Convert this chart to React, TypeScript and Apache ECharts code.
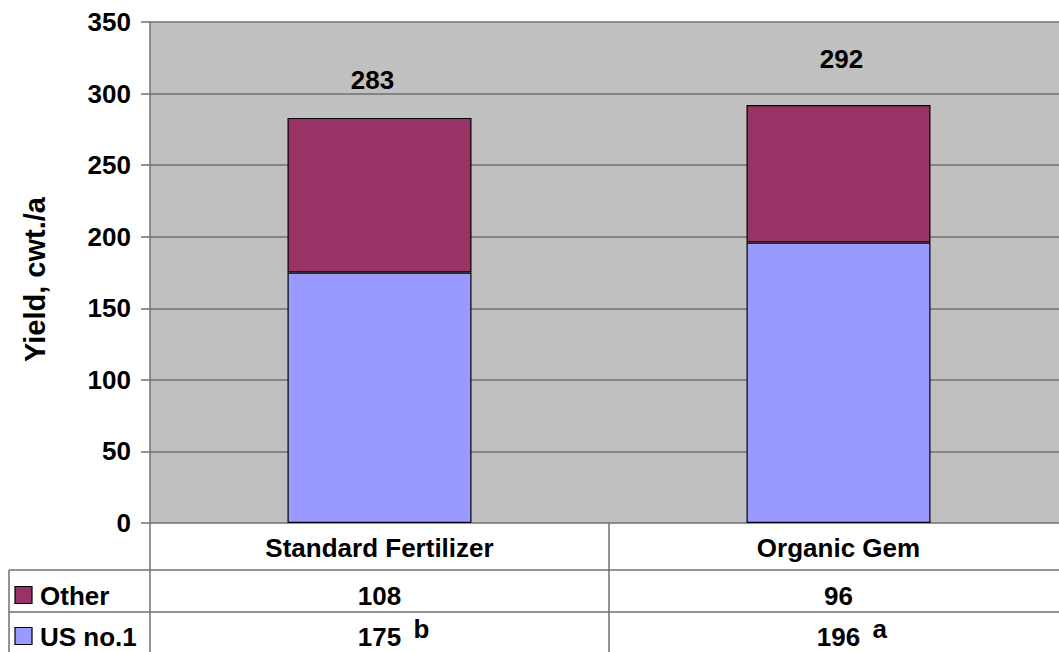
import React, { useEffect, useRef } from "react";
import * as echarts from "echarts";

const categories = ["Standard Fertilizer", "Organic Gem"];
const seriesNames = ["US no.1", "Other"];
const usNo1 = [175, 196];
const other = [108, 96];
const usSig = ["b", "a"];
const yMin = 0;
const yMax = 350;
const yInterval = 50;
const yTitle = "Yield, cwt./a";

const COLORS = { us: "#9999ff", other: "#993366" };
const FONT = "'Liberation Sans', Arial, Helvetica, sans-serif";
const totalOffsets = [
  [-7, -25],
  [3, -33],
];

export default function App() {
  const ref = useRef<HTMLDivElement>(null);
  useEffect(() => {
    if (!ref.current) return;
    const chart = echarts.init(ref.current, null, { renderer: "svg" });
    const lineColor = "#707070";
    const option: any = {
      animation: false,
      grid: {
        left: 150,
        top: 22,
        width: 918,
        height: 501,
        show: true,
        backgroundColor: "#c0c0c0",
        borderWidth: 0,
        containLabel: false,
      },
      xAxis: {
        type: "category",
        data: categories,
        axisLine: { show: false },
        axisTick: { show: false },
        axisLabel: {
          fontSize: 26,
          fontWeight: "bold",
          fontFamily: FONT,
          color: "#000",
          margin: 12,
        },
      },
      yAxis: {
        type: "value",
        min: yMin,
        max: yMax,
        interval: yInterval,
        axisLine: { show: true, lineStyle: { color: lineColor, width: 1.5 } },
        axisTick: { show: true, length: 9, lineStyle: { color: lineColor, width: 1.5 } },
        axisLabel: {
          fontSize: 26,
          fontWeight: "bold",
          fontFamily: FONT,
          color: "#000",
          margin: 19,
        },
        splitLine: { show: true, lineStyle: { color: lineColor, width: 1.5 } },
      },
      series: [
        {
          name: seriesNames[0],
          type: "bar",
          stack: "total",
          data: usNo1,
          barWidth: 184,
          itemStyle: { color: COLORS.us, borderColor: "#000", borderWidth: 1.2 },
        },
        {
          name: seriesNames[1],
          type: "bar",
          stack: "total",
          barWidth: 184,
          data: other.map((v, i) => ({
            value: v,
            label: { offset: totalOffsets[i] },
          })),
          itemStyle: { color: COLORS.other, borderColor: "#000", borderWidth: 1.2 },
          label: {
            show: true,
            position: "top",
            distance: 0,
            fontSize: 26,
            fontWeight: "bold",
            fontFamily: FONT,
            color: "#000",
            formatter: (p: any) => String(usNo1[p.dataIndex] + other[p.dataIndex]),
          },
        },
      ],
    };
    chart.setOption(option);

    const cx = categories.map((c) => chart.convertToPixel({ xAxisIndex: 0 } as any, c) as number);
    const y0 = chart.convertToPixel({ yAxisIndex: 0 } as any, yMin) as number;
    const yTop = chart.convertToPixel({ yAxisIndex: 0 } as any, yMax) as number;
    const axisX = 150;
    const boundary = (cx[0] + cx[1]) / 2;
    const row1 = 570;
    const row2 = 612;
    const bottom = 660;
    const leftX = 9;
    const rightX = 1070;
    const ls = { stroke: lineColor, lineWidth: 1.5 };
    const txt = (text: string, x: number, y: number, align = "center", size = 26) => ({
      type: "text",
      x,
      y,
      silent: true,
      style: {
        text,
        fill: "#000",
        fontSize: size,
        fontWeight: "bold",
        fontFamily: FONT,
        align,
        verticalAlign: "middle",
      },
    });
    const rows = [
      { name: seriesNames[1], color: COLORS.other, values: other, y: 595, sig: null as string[] | null },
      { name: seriesNames[0], color: COLORS.us, values: usNo1, y: 636, sig: usSig },
    ];
    const graphics: any[] = [
      { type: "line", silent: true, shape: { x1: axisX, y1: y0, x2: axisX, y2: bottom }, style: ls },
      { type: "line", silent: true, shape: { x1: boundary, y1: y0, x2: boundary, y2: bottom }, style: ls },
      { type: "line", silent: true, shape: { x1: leftX, y1: row1, x2: rightX, y2: row1 }, style: ls },
      { type: "line", silent: true, shape: { x1: leftX, y1: row2, x2: rightX, y2: row2 }, style: ls },
      { type: "line", silent: true, shape: { x1: leftX, y1: row1, x2: leftX, y2: bottom }, style: ls },
      {
        ...txt(yTitle, 35, (y0 + yTop) / 2 + 7, "center", 29),
        rotation: Math.PI / 2,
      },
    ];
    rows.forEach((r) => {
      graphics.push({
        type: "rect",
        silent: true,
        shape: { x: 15, y: r.y - 8.5, width: 17, height: 17 },
        style: { fill: r.color, stroke: "#000", lineWidth: 1.2 },
      });
      graphics.push(txt(r.name, 40, r.y + 1, "left"));
      r.values.forEach((v, i) => {
        graphics.push(txt(String(v), cx[i], r.y + 1));
        if (r.sig) {
          graphics.push(txt(r.sig[i], cx[i] + 34, r.y - 7, "left"));
        }
      });
    });
    chart.setOption({ graphic: graphics });

    return () => chart.dispose();
  }, []);
  return (
    <div style={{ position: "absolute", left: 0, top: 0, width: 1059, height: 652, overflow: "hidden" }}>
      <div ref={ref} style={{ width: 1070, height: 652 }} />
    </div>
  );
}
